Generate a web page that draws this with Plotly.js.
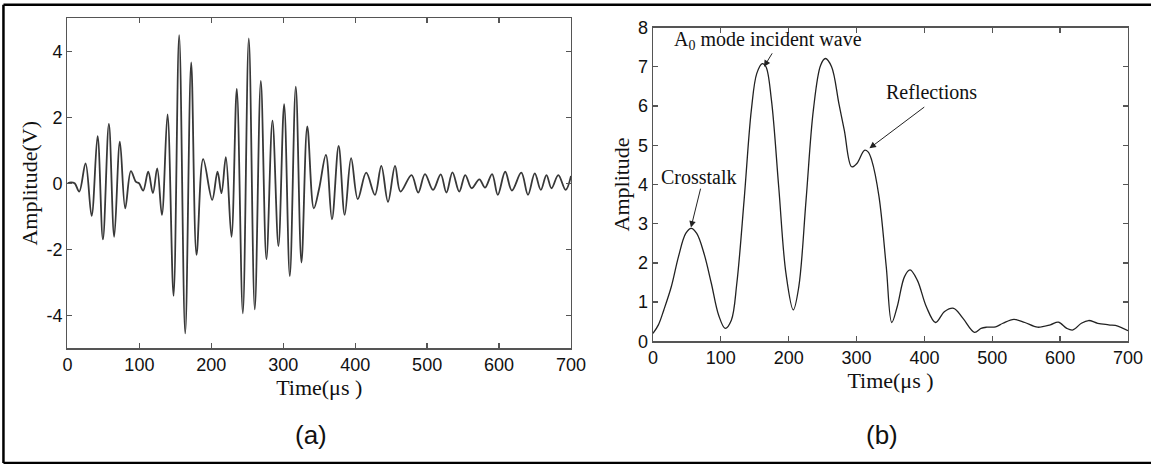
<!DOCTYPE html>
<html><head><meta charset="utf-8">
<script src="https://cdn.plot.ly/plotly-3.0.1.min.js"></script>
<style>html,body{margin:0;padding:0;background:#fff}#chart{width:1151px;height:464px}</style>
</head><body><div id="chart"></div>
<script>
// (a) raw waveform: extrema (time in µs, amplitude in V)
const waveTime = [0,5,10,16.4,25.2,33.6,41.9,49.3,57.6,65.0,72.9,80.3,88.2,95.3,99.5,105.3,112.3,118.8,124.8,131.3,
  139.1,147.5,155.3,163.7,172.0,179.4,188.7,201.2,208.6,214.1,220.2,228.0,235.4,243.8,252.1,260.4,268.8,276.6,285.0,293.3,
  301.2,309.1,317.4,325.3,333.4,342.5,350.0,359.3,367.7,377.0,385.4,394.3,403.6,415.3,427.4,436.3,445.6,455.4,462.9,478.3,
  487.6,497.0,508.2,518.9,526.8,535.2,544.6,553.0,561.9,572.6,580.5,590.3,598.2,608.5,617.8,630.9,640.2,649.6,658.0,665.9,
  672.9,682.3,692.5,700];
const waveAmp = [0,0.03,0.0,-0.25,0.6,-0.99,1.43,-1.70,1.80,-1.62,1.26,-0.76,0.37,0.04,0.0,-0.22,0.35,-0.3,0.45,-0.96,
  2.09,-3.41,4.49,-4.55,3.66,-2.17,0.73,-0.5,0.35,-0.3,0.79,-1.62,2.86,-3.94,4.39,-3.82,3.10,-2.30,1.90,-1.90,
  2.40,-2.81,2.93,-2.40,1.72,-0.76,-0.15,0.86,-1.09,1.13,-0.96,0.76,-0.48,0.32,-0.35,0.53,-0.56,0.53,-0.25,0.25,
  -0.28,0.28,-0.2,0.27,-0.28,0.33,-0.25,0.25,-0.15,0.12,-0.13,0.28,-0.35,0.35,-0.22,0.32,-0.35,0.30,-0.2,0.25,
  -0.15,0.25,-0.2,0.22];

// (b) envelope
const envTime = [0,8,16,27,37.6,48.3,56.4,64.5,75.2,86,96.7,106.4,115.5,123.6,134.3,145,153,161.2,166.5,174.6,
  185.3,196,206.8,214.9,225.6,236.4,247.1,254.1,263.2,274,282,292.8,300.8,311.6,317,322.3,333.1,343.8,351.9,359.9,
  370.7,378.8,389.5,402.9,416.4,429.8,443.2,456.6,473.8,483.5,491.6,505,515.7,531.9,548,566.8,585.6,597.4,609.8,618.9,
  631.3,642,655.4,671.5,685,700];
const envAmp = [0.2,0.42,0.8,1.39,2.16,2.75,2.88,2.75,2.24,1.48,0.67,0.33,0.54,1.48,3.6,5.9,6.83,7.08,7.0,6.15,
  3.94,1.73,0.8,1.39,3.6,5.9,7.04,7.21,7.0,6.06,5.38,4.45,4.54,4.87,4.83,4.62,3.69,1.9,0.48,0.88,
  1.65,1.82,1.56,0.88,0.48,0.76,0.84,0.59,0.23,0.33,0.36,0.37,0.46,0.56,0.48,0.36,0.42,0.49,0.33,0.29,
  0.46,0.53,0.46,0.42,0.39,0.27];

const xTicks = [0,100,200,300,400,500,600,700];
const yTicksA = [-4,-2,0,2,4];
const yTickTextA = ['-4','-2','0','2','4'];
const yTicksB = [0,1,2,3,4,5,6,7,8];

const labelA = '(a)';
const labelB = '(b)';
const xTitle = 'Time(μs )';
const yTitleA = 'Amplitude(V)';
const yTitleB = 'Amplitude';
const noteIncident = 'A<sub>0</sub> mode incident wave';
const noteReflections = 'Reflections';
const noteCrosstalk = 'Crosstalk';

const sans = 'Liberation Sans, Arial, sans-serif';
const serif = 'Liberation Serif, Times New Roman, serif';
const tickFont = {family: sans, size: 18, color: '#111'};
const titleFont = {family: serif, size: 22, color: '#111'};

const common = {
  showline: true, linecolor: '#555', linewidth: 1.3, mirror: 'ticks',
  ticks: 'inside', ticklen: 5, tickcolor: '#555', tickwidth: 1.3,
  showgrid: false, zeroline: false, tickfont: tickFont, fixedrange: true
};

const traces = [
  {x: waveTime, y: waveAmp, xaxis: 'x', yaxis: 'y', type: 'scatter', mode: 'lines',
   line: {color: '#383838', width: 1.8, shape: 'spline', smoothing: 1}, hoverinfo: 'skip'},
  {x: envTime, y: envAmp, xaxis: 'x2', yaxis: 'y2', type: 'scatter', mode: 'lines',
   line: {color: '#222', width: 1.3, shape: 'spline', smoothing: 1}, hoverinfo: 'skip'}
];

const arrow = (x, y, ax, ay) => ({
  xref: 'x2', yref: 'y2', axref: 'x2', ayref: 'y2', x: x, y: y, ax: ax, ay: ay,
  text: '', showarrow: true, arrowhead: 2, arrowsize: 1.3, arrowwidth: 1, arrowcolor: '#222'
});
const note = (text, x, y) => ({
  xref: 'x2', yref: 'y2', x: x, y: y, text: text, showarrow: false,
  xanchor: 'center', yanchor: 'middle', font: {family: serif, size: 20, color: '#111'}
});

const layout = {
  width: 1151, height: 464, margin: {l: 0, r: 0, t: 0, b: 0},
  paper_bgcolor: '#fff', plot_bgcolor: '#fff', showlegend: false,
  xaxis: Object.assign({}, common, {domain: [0.0586, 0.4961], range: [0, 700], tickvals: xTicks, anchor: 'y',
    title: {text: xTitle, font: titleFont, standoff: 2}}),
  yaxis: Object.assign({}, common, {domain: [0.2494, 0.9606], range: [-5, 5], tickvals: yTicksA, ticktext: yTickTextA, anchor: 'x',
    title: {text: yTitleA, font: titleFont, standoff: 2}}),
  xaxis2: Object.assign({}, common, {domain: [0.5673, 0.98], range: [0, 700], tickvals: xTicks, anchor: 'y2',
    title: {text: xTitle, font: titleFont, standoff: 0}}),
  yaxis2: Object.assign({}, common, {domain: [0.2644, 0.9407], range: [0, 8], tickvals: yTicksB, anchor: 'x2',
    title: {text: yTitleB, font: titleFont, standoff: 2}}),
  shapes: [
    {type: 'line', xref: 'paper', yref: 'paper', x0: 0.003, x1: 1, y0: 0.9899, y1: 0.9899, line: {color: '#000', width: 2.5}},
    {type: 'line', xref: 'paper', yref: 'paper', x0: 0.003, x1: 1, y0: 0.0022, y1: 0.0022, line: {color: '#000', width: 2.5}},
    {type: 'line', xref: 'paper', yref: 'paper', x0: 0.003, x1: 0.003, y0: 0.0022, y1: 0.9899, line: {color: '#000', width: 2.5}}
  ],
  annotations: [
    {xref: 'paper', yref: 'paper', x: 0.2702, y: 0.0625, text: labelA, showarrow: false, xanchor: 'center', yanchor: 'middle',
     font: {family: sans, size: 26, color: '#111'}},
    {xref: 'paper', yref: 'paper', x: 0.7663, y: 0.0625, text: labelB, showarrow: false, xanchor: 'center', yanchor: 'middle',
     font: {family: sans, size: 26, color: '#111'}},
    note(noteIncident, 169.5, 7.66),
    note(noteReflections, 411, 6.35),
    note(noteCrosstalk, 67.8, 4.19),
    arrow(163.6, 7.0, 177, 7.38),
    arrow(319, 4.92, 402, 6.0),
    arrow(56, 2.9, 70.7, 3.93)
  ]
};

Plotly.newPlot('chart', traces, layout, {displayModeBar: false, staticPlot: true});
</script>
</body></html>
